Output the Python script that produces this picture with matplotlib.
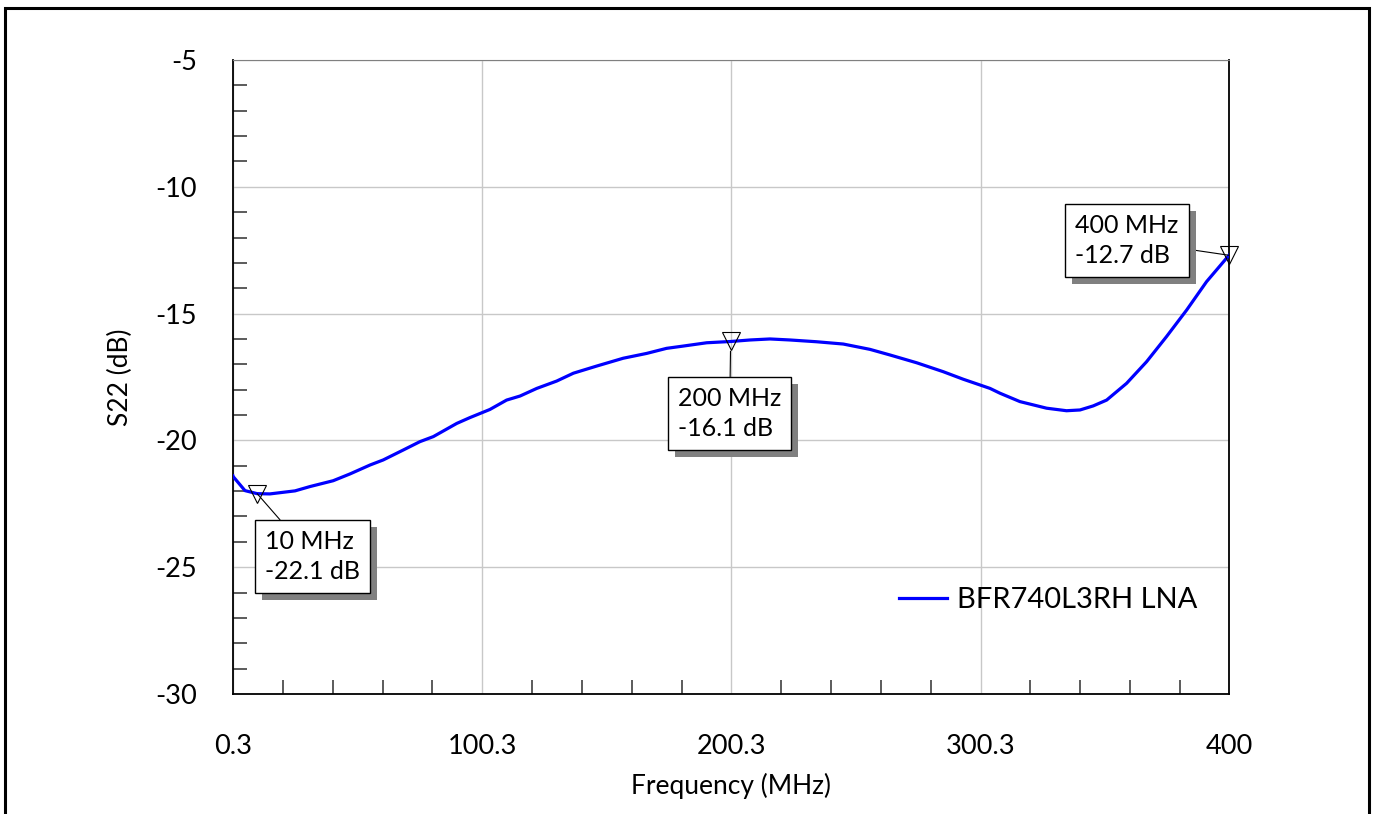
#!/usr/bin/env python3
import matplotlib
matplotlib.use("Agg")
import matplotlib.pyplot as plt
import matplotlib.patheffects as pe
from matplotlib.patches import Rectangle
from matplotlib.ticker import MultipleLocator, FixedLocator

plt.rcParams['font.family'] = ['Lato', 'DejaVu Sans']

# S22 of the LNA
freq_mhz = [0.3, 0.4, 5.1, 10.0, 15.1, 25.2, 31.2, 40.5, 47.3, 55.3, 60.6, 68.6, 75.3, 80.7,
            90.1, 95.4, 103.4, 110.1, 115.5, 122.2, 130.2, 136.9, 146.2, 156.9, 166.3,
            174.3, 181.0, 190.4, 200.0, 207.8, 215.8, 223.8, 234.5, 245.2, 255.9, 263.9,
            274.7, 285.3, 293.4, 304.1, 308.1, 316.1, 326.8, 334.8, 340.2, 345.5, 350.9,
            358.9, 366.9, 374.9, 383.0, 391.0, 400.0]
s22_db = [-21.4, -21.43, -21.98, -22.1, -22.11, -21.99, -21.82, -21.59, -21.32, -20.97, -20.77,
          -20.38, -20.05, -19.85, -19.33, -19.10, -18.78, -18.41, -18.25, -17.95, -17.66,
          -17.35, -17.07, -16.76, -16.57, -16.37, -16.28, -16.15, -16.1, -16.04, -16.0,
          -16.04, -16.11, -16.2, -16.41, -16.63, -16.94, -17.29, -17.59, -17.95, -18.14,
          -18.47, -18.73, -18.83, -18.8, -18.64, -18.41, -17.75, -16.9, -15.91, -14.86,
          -13.74, -12.7]

# markers: (freq, value, box offset in px from the point)
markers = [(10, -22.1, (55, 63)), (200, -16.1, (-1, 72)), (400, -12.7, (-102, -15))]

xticks = [0.3, 100.3, 200.3, 300.3, 400]
xtick_labels = ['0.3', '100.3', '200.3', '300.3', '400']

fig = plt.figure(figsize=(13.75, 8.14), dpi=100)
ax = fig.add_axes([233 / 1375, 1 - 694 / 814, 996 / 1375, 634 / 814])

ax.plot(freq_mhz, s22_db, color='#0000ff', linewidth=2.3, label='BFR740L3RH LNA', zorder=3)

ax.set_xlim(0.3, 400)
ax.set_ylim(-30, -5)
ax.set_xticks(xticks)
ax.set_xticklabels(xtick_labels)
ax.set_yticks([-30, -25, -20, -15, -10, -5])
ax.set_yticklabels(['-30', '-25', '-20', '-15', '-10', '-5'])
ax.yaxis.set_minor_locator(MultipleLocator(1))
ax.xaxis.set_minor_locator(FixedLocator([0.3 + 20 * i for i in range(1, 20)]))
ax.tick_params(axis='both', which='major', length=0, labelsize=19.5)
ax.tick_params(axis='y', which='major', pad=26)
ax.tick_params(axis='x', which='major', pad=29)
ax.tick_params(axis='both', which='minor', direction='in', length=10, width=1.2, color='#404040')
ax.grid(True, which='major', color='#c8c8c8', linewidth=1)

ax.spines['top'].set_color('#808080')
for side in ['left', 'bottom', 'right']:
    ax.spines[side].set_color('black')
    ax.spines[side].set_linewidth(1.3)

ax.set_xlabel('Frequency (MHz)', fontsize=19)
ax.set_ylabel('S22 (dB)', fontsize=19)
ax.xaxis.set_label_coords(0.5, -0.125)
ax.yaxis.set_label_coords(-0.1, 0.5)

for f, v, (dx, dy) in markers:
    ax.plot([f], [v], marker='v', markersize=13, markerfacecolor='none',
            markeredgecolor='black', markeredgewidth=0.8, clip_on=False, zorder=5)
    txt = ax.annotate('{} MHz\n{} dB'.format(f, v), xy=(f, v),
                      xytext=(dx * 0.72, -dy * 0.72), textcoords='offset points',
                      ha='center', va='center', multialignment='left',
                      fontsize=18, linespacing=1.35,
                      bbox=dict(boxstyle='square,pad=0.4', fc='white', ec='black', lw=1),
                      arrowprops=dict(arrowstyle='-', color='black', lw=0.8,
                                      shrinkA=0, shrinkB=7 if f == 200 else 0),
                      zorder=6, annotation_clip=False)
    txt.get_bbox_patch().set_path_effects([
        pe.SimplePatchShadow(offset=(5, -5), shadow_rgbFace='#808080', alpha=1.0),
        pe.Normal()])

ax.legend(loc='center left', bbox_to_anchor=(0.6687, 0.148), frameon=False,
          fontsize=21, handlelength=1.65, handletextpad=0.35,
          borderpad=0, borderaxespad=0)

# outer frame of the picture
fig.add_artist(Rectangle((5 / 1375, -0.05), 1364 / 1375, 0.05 + 1 - 8 / 814,
                         transform=fig.transFigure, fill=False, edgecolor='black',
                         linewidth=2.2, clip_on=False))

fig.savefig('out.png', dpi=100)
